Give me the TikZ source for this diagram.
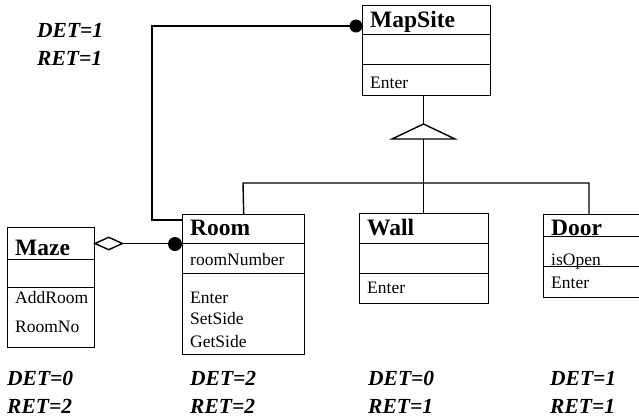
\documentclass[tikz,border=0pt]{standalone}
\usepackage{fontspec}
\setmainfont{Liberation Serif}
\usetikzlibrary{shapes.geometric}
\tikzset{
  comp/.style={draw, line width=1.4pt, rectangle, anchor=north west, inner sep=0pt},
  ttl/.style={anchor=base west, inner sep=0pt, font=\fontsize{23.5}{26}\selectfont\bfseries},
  txt/.style={anchor=base west, inner sep=0pt, font=\fontsize{17.5}{20}\selectfont},
  metric/.style={anchor=base west, inner sep=0pt, align=left, font=\fontsize{21.5}{28}\selectfont\bfseries\itshape},
  conn/.style={line width=1.4pt},
  dot/.style={circle, fill=black, inner sep=0pt, minimum size=#1},
}
\begin{document}
\begin{tikzpicture}[x=1pt,y=-1pt]
\useasboundingbox (0,0) rectangle (639,418);
\clip (0,0) rectangle (639,418);

% MapSite
\node[comp, minimum width=128pt, minimum height=29pt] (ms-t) at (362,5) {};
\node[comp, minimum width=128pt, minimum height=30pt] (ms-a) at (362,34) {};
\node[comp, minimum width=128pt, minimum height=31pt] (ms-o) at (362,64) {};
\node[ttl] (ms-n) at (370,27) {MapSite};
\node[txt] (ms-e) at (370,88) {Enter};

% Room
\node[comp, minimum width=122pt, minimum height=29pt] (rm-t) at (182,214) {};
\node[comp, minimum width=122pt, minimum height=30pt] (rm-a) at (182,243) {};
\node[comp, minimum width=122pt, minimum height=81pt] (rm-o) at (182,273) {};
\node[ttl] (rm-n) at (190,235) {Room};
\node[txt] (rm-v) at (190,265) {roomNumber};
\node[txt] (rm-e) at (190,303) {Enter};
\node[txt] (rm-s) at (190,324) {SetSide};
\node[txt] (rm-g) at (190,347) {GetSide};

% Maze
\node[comp, minimum width=87pt, minimum height=32pt] (mz-t) at (7,227) {};
\node[comp, minimum width=87pt, minimum height=28pt] (mz-a) at (7,259) {};
\node[comp, minimum width=87pt, minimum height=60pt] (mz-o) at (7,287) {};
\node[ttl] (mz-n) at (15,255) {Maze};
\node[txt] (mz-r) at (15,303) {AddRoom};
\node[txt] (mz-q) at (15,332) {RoomNo};

% Wall
\node[comp, minimum width=129pt, minimum height=30pt] (wl-t) at (359,213) {};
\node[comp, minimum width=129pt, minimum height=30pt] (wl-a) at (359,243) {};
\node[comp, minimum width=129pt, minimum height=30pt] (wl-o) at (359,273) {};
\node[ttl] (wl-n) at (367,235) {Wall};
\node[txt] (wl-e) at (367,293) {Enter};

% Door
\node[comp, minimum width=110pt, minimum height=22pt] (dr-t) at (543,214) {};
\node[comp, minimum width=110pt, minimum height=30pt] (dr-a) at (543,236) {};
\node[comp, minimum width=110pt, minimum height=31pt] (dr-o) at (543,266) {};
\node[ttl] (dr-n) at (551,235) {Door};
\node[txt] (dr-v) at (551,265) {isOpen};
\node[txt] (dr-e) at (551,288) {Enter};

% Generalization
\coordinate (tri-apex) at (423.5,124);
\coordinate (tri-base) at (423.5,139);
\coordinate (bus-l) at (243,183);
\coordinate (bus-m) at (423.5,183);
\coordinate (bus-r) at (589,183);
\draw[conn] (tri-apex |- ms-o.south) -- (tri-apex);
\draw[conn, fill=white] (tri-apex) -- (392,139) -- (455,139) -- cycle;
\draw[conn] (tri-base) -- (bus-m);
\draw[conn] (rm-t.north) -- (bus-l) -- (bus-r) -- (bus-r |- dr-t.north);
\draw[conn] (bus-m) -- (bus-m |- wl-t.north);

% Association MapSite - Room
\coordinate (lp-t) at (152,26);
\coordinate (lp-b) at (152,220);
\draw[conn] (ms-t.west |- lp-t) -- (lp-t) -- (lp-b) -- (lp-b -| rm-t.west);
\node[dot=13pt] (d1) at (356,26) {};

% Aggregation Maze - Room
\node[diamond, draw, line width=1.4pt, fill=white, inner sep=0pt, minimum width=28pt, minimum height=13pt, anchor=west] (dia) at (94,243.5) {};
\draw[conn] (dia.east) -- (dia.east -| rm-t.west);
\node[dot=14pt] (d2) at (175,244) {};

% Metrics
\node[metric] (m0) at (37,37) {DET=1};
\node[metric] (m0b) at (37,65) {RET=1};
\node[metric] (m1) at (7,385) {DET=0};
\node[metric] (m1b) at (7,413) {RET=2};
\node[metric] (m2) at (190,385) {DET=2};
\node[metric] (m2b) at (190,413) {RET=2};
\node[metric] (m3) at (368,385) {DET=0};
\node[metric] (m3b) at (368,413) {RET=1};
\node[metric] (m4) at (550,385) {DET=1};
\node[metric] (m4b) at (550,413) {RET=1};
\end{tikzpicture}
\end{document}
